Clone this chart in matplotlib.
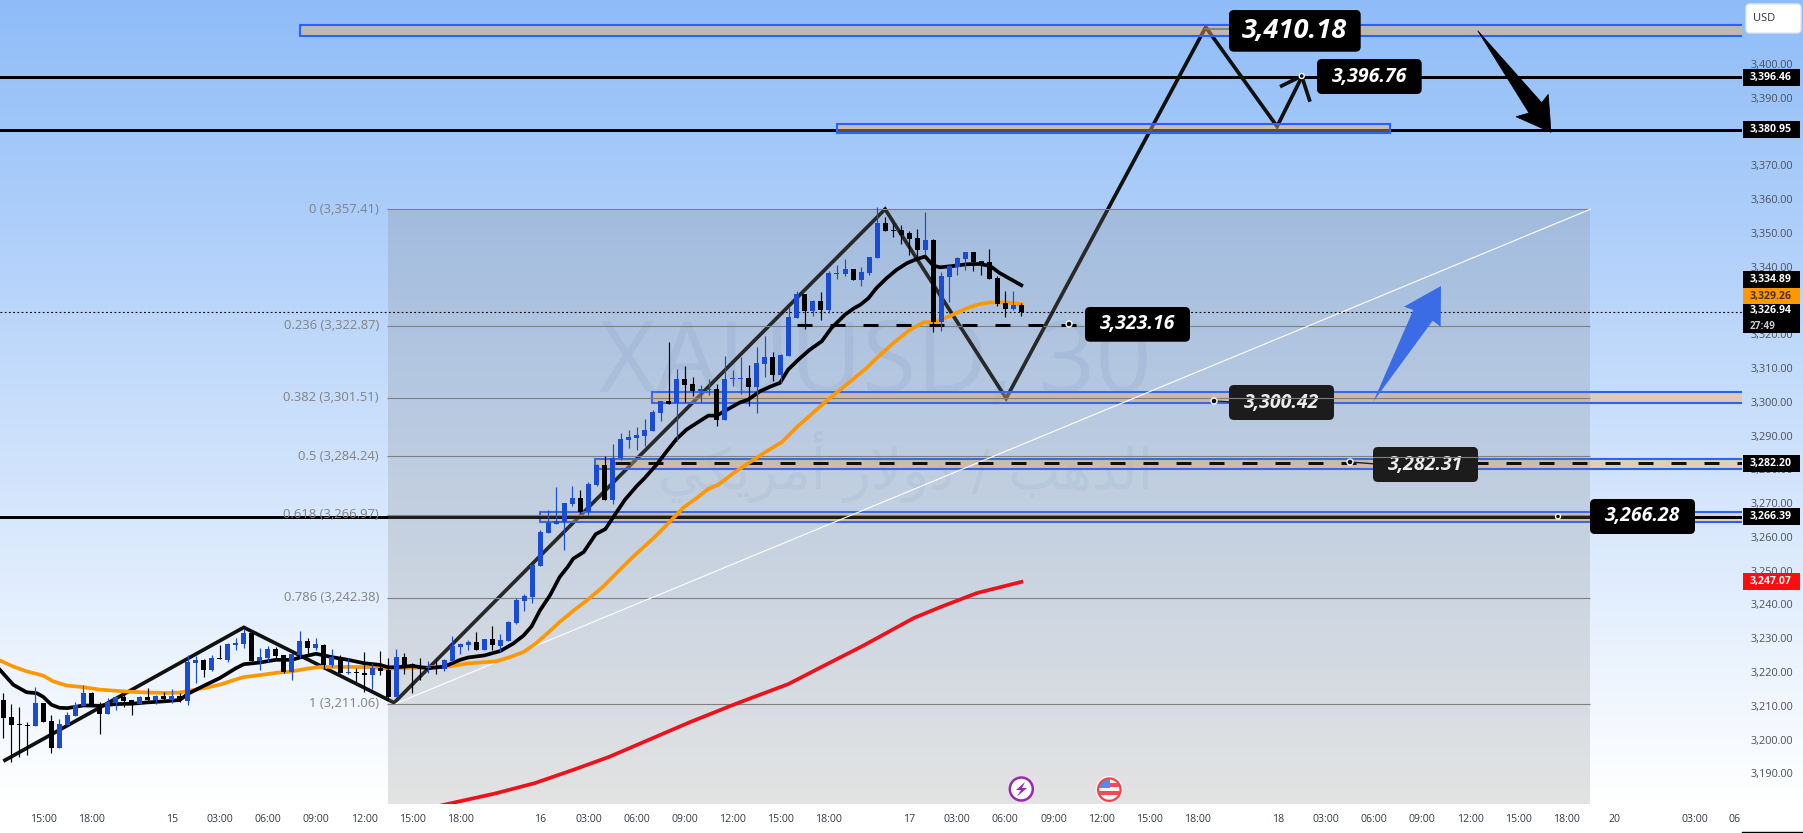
import numpy as np
import matplotlib
matplotlib.use("Agg")
import matplotlib.pyplot as plt
from matplotlib.patches import FancyBboxPatch, Rectangle, Polygon, Circle
from matplotlib.transforms import ScaledTranslation
from matplotlib import font_manager as fm

W, H = 1803, 833
BAR = 8.016
X0 = 3.33
PANE_R = 1742
PANE_B = 804

opens = [3212.05,3207,3205,3204.8,3204.5,3211.3,3205.8,3198,3204.7,3207.5,
 3210.4,3214.2,3210.9,3208.1,3211.2,3213,3212,3210.8,3213,3212,
 3213.3,3212.1,3213.3,3211.8,3223.2,3224,3221,3224.5,3224,3228.3,
 3228.7,3232,3223.8,3224.6,3227.2,3225.4,3220.5,3225.3,3229.6,3227.5,
 3228.5,3222.4,3224.8,3220,3220.3,3220,3219.5,3221.5,3221,3213,
 3224.9,3222.8,3222,3221.6,3222.1,3221.3,3223.7,3227.9,3228.4,3229.4,
 3226.8,3230.1,3228.2,3229.5,3234.8,3241.3,3242.5,3251.9,3261.6,3264.3,
 3264.9,3270.2,3272,3267.9,3275.9,3281.8,3271.4,3283.6,3289.2,3289.8,
 3290.4,3291.8,3297.2,3300.7,3300,3307.2,3305.8,3303.7,3303.9,3304.3,
 3295.1,3307,3307,3307.5,3304.9,3311.7,3313.5,3308.4,3314,3325.1,
 3332.3,3327.4,3330.3,3327.6,3338.3,3338.3,3339.7,3336.5,3338.6,3343,
 3353.4,3351.3,3351.3,3350.4,3348.9,3345.4,3348.3,3324,3337.4,3340.3,
 3342.7,3344.8,3342.1,3341.8,3337,3329.7,3327.9,3329.1]
closes = [3206.9,3204.8,3204.6,3204.5,3211.3,3205.7,3198,3205,3207.7,3210.7,
 3214.2,3210.5,3208.1,3211.6,3213,3211.8,3210.9,3213,3212.1,3213.3,
 3212.3,3213.3,3212,3223.4,3224,3221,3224.6,3224.1,3228.7,3228.9,
 3232,3223.8,3224.8,3227.2,3225.2,3220.4,3225.8,3229.6,3227.5,3228.7,
 3222.5,3224.8,3220.2,3220.2,3220,3219.6,3221.7,3220.8,3213,3224.9,
 3222.6,3221.8,3221.4,3222,3221.8,3224,3228.2,3228.7,3229.4,3226.8,
 3230.2,3228.3,3229.8,3235.1,3241.6,3242.8,3252,3261.9,3264.6,3265,
 3270.5,3272,3267.9,3276.1,3281.8,3271.4,3283.6,3289.5,3290,3290.7,
 3292.1,3297.5,3300.7,3299.8,3307.2,3305.5,3303.7,3304.3,3304.2,3295.1,
 3307.2,3307.5,3307.5,3304.9,3312,3313.5,3308.4,3314.3,3325.5,3332.3,
 3327.4,3330.3,3327.6,3338.6,3338.6,3339.7,3336.5,3338.8,3343.3,3353.4,
 3350.9,3351,3349.8,3348.6,3345.4,3348.3,3324,3337.7,3340.6,3343,
 3344.8,3341.8,3341.2,3336.8,3329.4,3327.9,3329.1,3326.94]
highs = [3214.1,3211,3210,3205.5,3216,3211.3,3207.7,3206.4,3208.5,3211.5,
 3216.5,3214.4,3211.5,3212.6,3213.3,3213.8,3212.2,3213.3,3215.6,3213.5,
 3214.5,3215.3,3214.3,3225.3,3225.2,3224.3,3225.3,3228.3,3228.9,3230.4,
 3233.1,3232,3227.5,3228.1,3227.8,3225.4,3225.8,3232.6,3230.4,3230.4,
 3228.7,3227.3,3225.5,3224.4,3221.5,3226.3,3223,3226.7,3224.5,3227.2,
 3226.1,3223,3224.4,3223.7,3224,3224.2,3231.1,3228.9,3229.9,3232.3,
 3230.2,3233.9,3231.5,3235.4,3242.2,3243.6,3252,3262.5,3268.4,3275.2,
 3270.5,3275.5,3274.4,3276.5,3282,3284.2,3288,3291.1,3292.1,3292.9,
 3295.4,3298.1,3300.7,3318.2,3310.2,3311.1,3307.7,3305.5,3307.2,3305.8,
 3314,3309.9,3313.7,3311.4,3316.7,3320,3315.2,3314.6,3328.5,3333.2,
 3332.3,3330.6,3332.9,3339.1,3340.9,3342.7,3339.7,3340.2,3343.3,3358.1,
 3355,3353.4,3352.8,3350.9,3351.6,3356.6,3348.6,3338.9,3340.9,3343.3,
 3344.8,3344.8,3342.1,3345.7,3337.7,3333.2,3333.2,3329.7]
lows = [3201,3193.9,3195.1,3195.7,3204.5,3205.7,3196.5,3198,3204.7,3207.4,
 3210.4,3210.2,3201.9,3208.1,3209,3209.9,3207.8,3210.8,3211.2,3210.8,
 3212,3211.2,3211.5,3210.5,3217.1,3219,3220.7,3224.1,3223.5,3227,
 3227.6,3223.8,3221,3223.4,3224.5,3220.2,3217.9,3224.5,3225.7,3226.8,
 3221.4,3222,3220,3219.8,3217.1,3214.6,3215.4,3219.5,3212.1,3213,
 3219.8,3214.3,3218,3220,3219.8,3220.8,3223.5,3225.7,3226.9,3226.8,
 3226.8,3226.8,3226.4,3229.5,3234.5,3238.5,3240.7,3251.9,3261.6,3264.3,
 3256.4,3269.4,3267.4,3267,3275.5,3271.2,3270,3283.2,3286.7,3286.2,
 3287.2,3291.8,3294.8,3299.8,3288.8,3300.4,3302.2,3300.2,3302.5,3293.3,
 3295.1,3305.2,3302.8,3299.2,3297.2,3307.8,3306.6,3306,3314,3325.1,
 3321.9,3325.9,3324.6,3326.8,3336.8,3337.7,3336.3,3334.7,3338,3343,
 3350.9,3349.2,3347.1,3343.9,3342.7,3343.9,3321.1,3321.4,3330,3338,
 3339.4,3339.1,3338,3336.8,3328.8,3325.5,3327.6,3325.8]

ma_fast_x = [-0.42,1.25,2.9,4.2,5,6,7,8,10,12,14,16,18,20,22,23,25,27,29,30,32,34,36,37,39,41,43,45,47,48,49,51,53,55,57,58,60,62,63.6,64.9,65.9,66.95,68.2,69.4,70.4,71.1,72.4,73.9,75.1,76.3,77.55,79,80,81.5,82.75,84,85.2,86.5,87.95,89,90.65,91.9,92.9,94.4,95.6,96.9,97.9,99.2,100.6,102.1,103.3,105,106.2,106.9,107.9,108.9,110.2,111.4,112.7,113.9,115,116,116.85,118.5,120.2,121.8,123.1,124.3,125.8,127]
ma_fast_y = [3221,3216.6,3214.4,3214.1,3213,3210.7,3209.8,3209.7,3210.5,3210.4,3210.9,3211,3211.4,3211.7,3212.1,3213.9,3216.3,3218.6,3221.5,3222.7,3223.2,3224,3224,3224.7,3225.8,3224.8,3224,3223,3222.5,3221.8,3221.8,3222.2,3221.5,3222,3224,3224.7,3225.3,3226.6,3228.8,3231.2,3233.9,3238.65,3243.1,3248.5,3251.5,3253.95,3255.9,3261.2,3262.7,3267,3271.4,3275.4,3277.8,3281.8,3285.7,3289.4,3292.1,3294.1,3296.3,3296.3,3298.55,3300.2,3301,3303.5,3304.8,3306,3309.9,3312.9,3315.8,3318.3,3322.2,3326.2,3328.2,3329.1,3331,3334,3337,3339.4,3341.4,3342.6,3343.4,3340.7,3340.2,3340.6,3341.1,3341.2,3340.6,3338.5,3336.5,3334.89]
ma_mid_x = [-0.42,1.25,2.9,5,6.25,7.9,10,12,14.2,16.25,18.3,20.4,22,23.75,25.4,27.1,28.75,30,32.1,34.2,35.8,37.9,39.6,41.7,43.75,45.8,47.9,50,53.3,55.4,57.9,60,61.55,63.2,64.87,66.3,67.8,69.4,71.1,72.9,74.85,76.5,78.6,81.1,83.2,84.8,86.5,87.95,89.2,91.1,93.6,95.2,97.1,99,101,103.1,105.2,107.7,108.7,111,113.1,114.8,116.4,118.1,120.2,121.8,123.1,125.2,127]
ma_mid_y = [3223.8,3222,3220.6,3219.3,3217.6,3216.4,3215.9,3215.2,3214.8,3214.5,3214.3,3214.2,3214.3,3215.1,3215.8,3216.7,3218,3218.9,3219.5,3220.2,3220.5,3221.4,3221.9,3221.9,3221.9,3221.8,3221.4,3221.6,3221.8,3222,3222.9,3223.3,3223.6,3224.8,3226.3,3228.6,3231.7,3235.2,3238.5,3241.8,3245.7,3249.7,3254.6,3260,3265,3269,3271.9,3274.6,3275.85,3279.3,3283.25,3285.7,3288.4,3292.9,3297.1,3301.5,3305.5,3310.4,3312.8,3317.7,3321.7,3323.9,3324.1,3325.8,3328.1,3329.3,3329.8,3329.8,3329.26]
ma_slow_x = [54.8,61.3,66.3,71.3,75.6,80.6,85.7,91.4,97.9,102.9,107.2,113.6,117.2,121.5,127]
ma_slow_y = [3181,3184.4,3187.5,3191.6,3195.3,3200.4,3205.6,3211,3216.8,3222.9,3228.1,3236.4,3239.9,3243.8,3247.07]

zigzag_x = [0,30,48.75,110,125.1,150,158.9,162]
zigzag_y = [3194,3233.6,3211.3,3357.41,3301.4,3411.3,3381.9,3396.6]

fib_ratio = ["0","0.236","0.382","0.5","0.618","0.786","1"]
fib_price = [3357.41,3322.87,3301.51,3284.24,3266.97,3242.38,3211.06]
fib_k = [48,198]

zones_k0 = [37.0,104.0,80.9,73.8,66.9]
zones_top = [3411.93,3382.62,3303.37,3283.54,3267.85]
zones_bot = [3408.67,3379.96,3299.94,3280.4,3264.71]

level_396 = 3396.46
level_381 = 3380.95
level_266 = 3266.39
level_282 = 3282.20
level_323 = 3323.16
last_price = 3326.94

y_ticks = list(range(3190,3410,10))
x_tick_k = [5,11,21,27,33,39,45,51,57,67,73,79,85,91,97,103,113,119,125,131,137,143,149,159,165,171,177,183,189,195,201,211,216]
x_tick_lab = ["15:00","18:00","15","03:00","06:00","09:00","12:00","15:00","18:00","16","03:00","06:00","09:00","12:00","15:00","18:00","17","03:00","06:00","09:00","12:00","15:00","18:00","18","03:00","06:00","09:00","12:00","15:00","18:00","20","03:00","06"]

def find_font(preferred):
    names = {f.name for f in fm.fontManager.ttflist}
    for p in preferred:
        if p in names:
            return p
    return "DejaVu Sans"
UI = find_font(["Open Sans", "Noto Sans", "DejaVu Sans"])

fig = plt.figure(figsize=(W/100, H/100), dpi=100)

# gradient background
bg = fig.add_axes([0,0,1,1], zorder=-1)
top = np.array([0x8f,0xbc,0xf8])/255
grad_t = np.clip(np.linspace(0,1,H)/(800/H),0,1)[:,None,None]
img = top[None,None,:]*(1-grad_t)+np.ones(3)[None,None,:]*grad_t
bg.imshow(img, aspect="auto", extent=[0,W,H,0])
bg.axis("off")

# main pane
ax = fig.add_axes([0,(H-PANE_B)/H,PANE_R/W,PANE_B/H])
ax.patch.set_alpha(0)
ax.set_xlim((0-X0)/BAR,(PANE_R-X0)/BAR)
ax.set_ylim(3400-(PANE_B-65.3)/3.378,3400+65.3/3.378)
for s in ax.spines.values():
    s.set_visible(False)
ax.set_xticks(x_tick_k)
ax.set_xticklabels(x_tick_lab, fontsize=7.6, color="#333a44", family=UI)
ax.tick_params(axis="x", length=0, pad=7)
ax.yaxis.tick_right()
ax.set_yticks(y_ticks)
ax.set_yticklabels([f"{v:,.2f}" for v in y_ticks], fontsize=7.8, color="#4a525c", family=UI)
ax.tick_params(axis="y", length=0, pad=6.5)
for t in ax.yaxis.get_major_ticks():
    t.label2.set_transform(t.label2.get_transform()+ScaledTranslation(0,1.3/100,fig.dpi_scale_trans))

# watermark
ax.text(108.8,3311,"XAUUSD, 30",fontsize=71,color="#4a74b8",alpha=0.10,ha="center",va="center",family=UI,zorder=1)
amriki="\uFEF2\uFEDC\uFEF3\uFEAE\uFEE3\uFE83"
dollar="\uFEAD\uFEFB\uFEED\uFEA9"
dhahab="\uFE90\uFEEB\uFEAC\uFEDF\uFE8D"
ax.text(112.5,3281,f"{amriki} {dollar} / {dhahab}",fontsize=40,color="#4a74b8",alpha=0.08,ha="center",va="center",family="DejaVu Sans",zorder=1)

lw3 = 3*0.72
lw4 = 3.7*0.72
# horizontal rays
ax.axhline(level_396,color="black",lw=lw3,zorder=2)
ax.axhline(level_381,color="black",lw=lw3,zorder=2)
# forecast path
ax.plot(zigzag_x,zigzag_y,color="#111111",lw=lw4,zorder=2,solid_joinstyle="miter",solid_capstyle="butt")

# zones
xr = ax.get_xlim()[1]
for i,(k0,t,b) in enumerate(zip(zones_k0,zones_top,zones_bot)):
    right = (1390-X0)/BAR if i==1 else xr+2
    ax.add_patch(Rectangle((k0,b),right-k0,t-b,facecolor=(0.99,0.70,0.33,0.42),edgecolor="#2962ff",lw=1.5,zorder=3))
ax.axhline(level_266,color="black",lw=lw3,zorder=4)

# fibonacci box
ax.add_patch(Rectangle((fib_k[0],ax.get_ylim()[0]),fib_k[1]-fib_k[0],fib_price[0]-ax.get_ylim()[0],facecolor="#808080",alpha=0.22,lw=0,zorder=5))
ax.hlines(fib_price,fib_k[0]-0.1,fib_k[1],color="#808080",lw=0.8,zorder=6)
for r,p in zip(fib_ratio,fib_price):
    ax.text(46.85,p,f"{r} ({p:,.2f})",fontsize=9.4,color="#828282",ha="right",va="center",family=UI,zorder=6)
ax.plot([49,fib_k[1]],[fib_price[6],fib_price[0]],color="white",lw=0.8,zorder=6)

# dashes and last price
ax.plot([(615-X0)/BAR,xr],[level_282,level_282],color="#111111",lw=lw3,dashes=(15/3,18/3),zorder=7)
ax.plot([(796.7-X0)/BAR,(1085-X0)/BAR],[level_323,level_323],color="black",lw=lw3,dashes=(15/3,18/3),zorder=7)
ax.axhline(last_price,color="black",lw=0.8,dashes=(1.6,2.2),zorder=7)

# moving averages
ax.plot(ma_slow_x,ma_slow_y,color="#f0101a",lw=lw4,zorder=7)
ax.plot(ma_mid_x,ma_mid_y,color="#ff9800",lw=lw4,zorder=7)
ax.plot(ma_fast_x,ma_fast_y,color="black",lw=lw4,zorder=7)

# candles
o,h,l,c = map(np.array,(opens,highs,lows,closes))
k = np.arange(len(o))
cols = np.where(c>=o,"#1a4bd0","#000000")
ax.vlines(k,l,h,colors=cols,lw=0.85,zorder=8)
ax.bar(k,np.maximum(np.abs(c-o),0.3),bottom=np.minimum(o,c),width=5/BAR,color=cols,lw=0,zorder=8)

# overlay in pixels
ov = fig.add_axes([0,0,1,1],zorder=10)
ov.set_xlim(0,W); ov.set_ylim(H,0); ov.axis("off"); ov.patch.set_alpha(0)

def tag(cy,txt,bg="black",fg="white",h=17,sub=None,cy2=None):
    ov.add_patch(Rectangle((1743,cy-h/2),56.5,h,facecolor=bg,lw=0))
    ov.text(1771,(cy if cy2 is None else cy2),txt,fontsize=7.6,color=fg,weight="bold",ha="center",va="center",family=UI)
    if sub:
        ov.text(1763,cy+7.5,sub,fontsize=7.2,color="#c8c8c8",weight="bold",ha="center",va="center",family=UI)
tag(77.3,"3,396.46")
tag(129.3,"3,380.95")
tag(279.7,"3,334.89")
tag(296,"3,329.26",bg="#ff9800",fg="#4a3200")
tag(318.5,"3,326.94",h=29,sub="27:49",cy2=311)
tag(463.3,"3,282.20")
tag(516.7,"3,266.39")
tag(581.7,"3,247.07",bg="#ff0d0d")
ov.add_patch(FancyBboxPatch((1748,6),51,25,boxstyle="round,pad=2,rounding_size=4",facecolor="white",edgecolor="#dfe6f2",lw=1))
ov.text(1764,18.5,"USD",fontsize=8,color="#333333",ha="center",va="center",family=UI)
ov.plot([1742,1803],[832,832],color="black",lw=1)

def label(x0,x1,y0,y1,txt,fs,bg="black",fg="white"):
    ov.add_patch(FancyBboxPatch((x0+4,y0+4),x1-x0-8,y1-y0-8,boxstyle="round,pad=4,rounding_size=5",facecolor=bg,lw=0,zorder=5))
    ov.text((x0+x1)/2,(y0+y1)/2,txt,fontsize=fs,color=fg,weight="bold",style="italic",ha="center",va="center",family=UI,zorder=6)

def dot(x,y,r=3):
    ov.add_patch(Circle((x,y),r,facecolor="#111111",edgecolor="white",lw=1,zorder=4))

ov.plot([1205,1232],[29,29],color="#777777",lw=1.2)
label(1229,1360.7,10,51.7,"3,410.18",19.5)
label(1317,1421.7,59,94,"3,396.76",14)
label(1085,1190,307,341.7,"3,323.16",14)
ov.plot([1214,1232],[401,402],color="#222222",lw=1,zorder=3)
label(1229,1334,385,420,"3,300.42",14,bg="#1c1c1c",fg="#ececec")
ov.plot([1229,1334],[398,398],color="#808080",lw=0.8,zorder=7)
ov.plot([1350,1376],[462,464],color="#222222",lw=1,zorder=3)
label(1373,1478,447,482,"3,282.31",14,bg="#1c1c1c",fg="#ececec")
ov.plot([1373,1478],[456.7,456.7],color="#808080",lw=0.8,zorder=7)
label(1590,1695,499,534,"3,266.28",14)
dot(1069,324); dot(1214,401); dot(1350,462); dot(1558,516.5,2.5); dot(1301.7,76,2.5)

# small arrow head
ov.plot([1280,1301.7,1310],[86.7,76,101.7],color="#111111",lw=lw4,solid_joinstyle="miter",solid_capstyle="butt")
# black arrow
ov.add_patch(Polygon([(1477.7,30.7),(1541.7,102.7),(1548.3,94.3),(1551,132.3),(1516,116.7),(1529,113)],closed=True,facecolor="black",edgecolor="black",lw=0.5))
# blue arrow
ov.add_patch(Polygon([(1373.3,401.7),(1413.3,310),(1404,306.7),(1441,286),(1440.7,326.7),(1432.7,320.7)],closed=True,facecolor="#3b6ce6",lw=0))

# event icons
ov.add_patch(Circle((1021.3,789),11.5,facecolor="white",edgecolor="#9c27b0",lw=1.8))
ov.add_patch(Polygon([(1025,782),(1016,790),(1021,790),(1017,796.5),(1027,788),(1022,788)],closed=True,facecolor="#9c27b0",lw=0))
clip = Circle((1109.3,789.7),10.5,transform=ov.transData)
for yy,cc in [(779,"#f4f4f4"),(783,"#ef4d55"),(787,"#f4f4f4"),(791,"#ef4d55"),(795,"#f4f4f4")]:
    r = Rectangle((1098,yy),23,4,facecolor=cc,lw=0)
    ov.add_patch(r); r.set_clip_path(clip)
r = Rectangle((1098,779),11.5,9,facecolor="#4a90e8",lw=0)
ov.add_patch(r); r.set_clip_path(clip)
ov.add_patch(Circle((1109.3,789.7),11.5,facecolor="none",edgecolor="#f0444c",lw=2))
ov.add_patch(Circle((1109.3,789.7),13,facecolor="none",edgecolor="white",lw=1,alpha=.8))

fig.savefig("out.png",dpi=100)
